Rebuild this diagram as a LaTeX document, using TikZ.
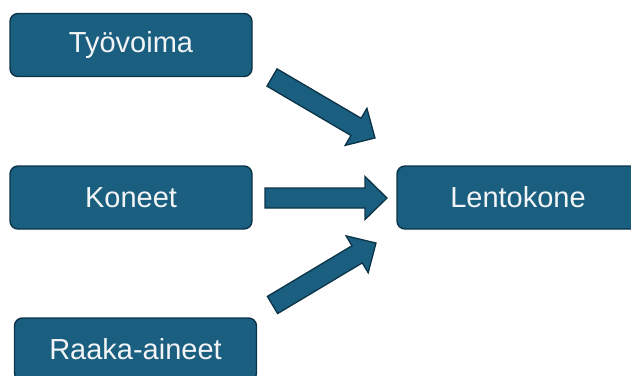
\documentclass[tikz,border=0pt]{standalone}
\usepackage{fontspec}
\setmainfont{Liberation Sans}
\usetikzlibrary{calc}

\definecolor{boxfill}{HTML}{1A5E80}
\definecolor{boxline}{HTML}{0C3448}
\definecolor{boxtext}{HTML}{F2F4F5}

% block arrow from tail coordinate #1 to tip coordinate #2
\newcommand\blockarrow[2]{%
  \draw[barrow] let \p1=($(#2)-(#1)$), \n1={atan2(\y1,\x1)}, \n2={veclen(\x1,\y1)} in
    {[shift={(#1)}, rotate=\n1]
    (0,-10) -- (\n2-22,-10) -- (\n2-22,-21.5) -- (\n2,0) -- (\n2-22,21.5) -- (\n2-22,10) -- (0,10) -- cycle};}

\begin{document}
\begin{tikzpicture}[x=1pt,y=-1pt,
  factor/.style={draw=boxline, line width=1.4pt, fill=boxfill, rounded corners=8pt,
    minimum width=242pt, minimum height=63pt, inner sep=0pt,
    text=boxtext, font=\fontsize{29}{32}\selectfont},
  barrow/.style={draw=boxline, line width=1.3pt, fill=boxfill, line join=miter}]
\useasboundingbox (0,0) rectangle (631,375);
\clip (0,0) rectangle (631,375);

\node[factor] (tyo) at (131,45) {Työvoima};
\node[factor] (kon) at (131,197.5) {Koneet};
\node[factor] (raa) at (135.5,349.5) {Raaka-aineet};
\node[factor] (len) at (518,197.5) {Lentokone};

\coordinate (t1) at (272,77.5);  \coordinate (h1) at (375,138);
\coordinate (t2) at (265,198);   \coordinate (h2) at (387,198);
\coordinate (t3) at (272.5,305); \coordinate (h3) at (376,243);

\blockarrow{t1}{h1}
\blockarrow{t2}{h2}
\blockarrow{t3}{h3}
\end{tikzpicture}
\end{document}
